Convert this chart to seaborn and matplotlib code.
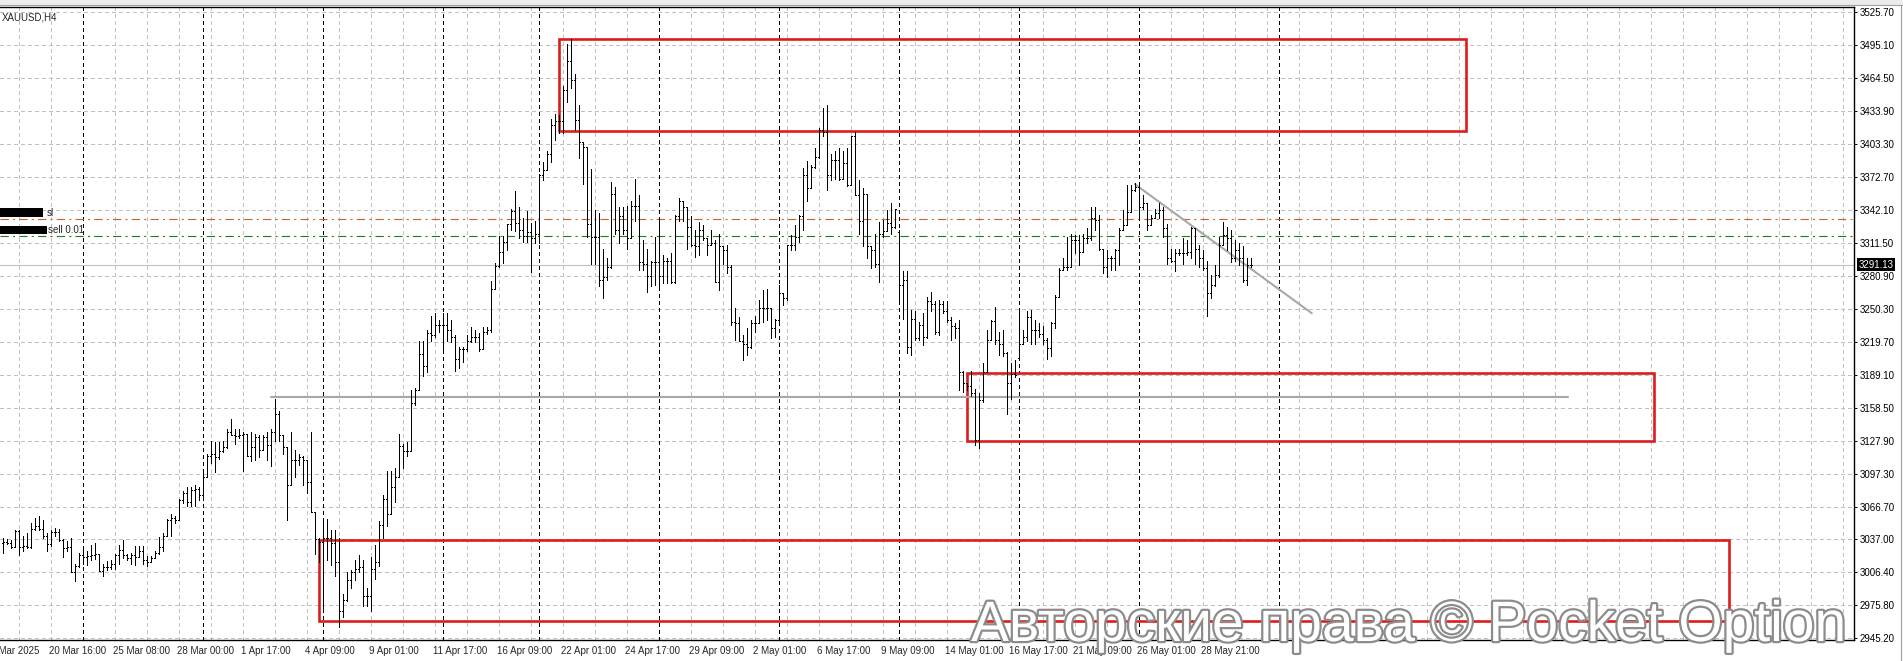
import numpy as np
import pandas as pd
import matplotlib
matplotlib.use("Agg")
import matplotlib.pyplot as plt
import matplotlib.patheffects as pe
from matplotlib.patches import Rectangle
from matplotlib.transforms import blended_transform_factory
import seaborn as sns

# === XAUUSD H4 bars, 18 Mar 16:00 .. 30 May 2025 (one row per week) ===
highs = [
    3038, 3037, 3036, 3045, 3045, 3040, 3042, 3052, 3056, 3058, 3054, 3042, 3045, 3047, 3046, 3037, 3035, 3038, 3014, 3024,
    3028, 3026, 3031, 3033, 3023, 3014, 3016, 3017, 3023, 3031, 3036, 3023, 3024, 3030, 3030, 3030, 3021, 3021, 3026, 3039, 3042, 3055, 3060, 3058, 3074, 3081, 3085, 3085, 3087, 3085,
    3100, 3116, 3128, 3127, 3127, 3128, 3139, 3148, 3139, 3139, 3136, 3128, 3136, 3134, 3133, 3133, 3136, 3139, 3167, 3155, 3133, 3122, 3136, 3119, 3116, 3114, 3110, 3136, 3062, 3038,
    3056, 3055, 3045, 3045, 3038, 2986, 3006, 3008, 3017, 3022, 3017, 2991, 3020, 3031, 3053, 3078, 3100, 3100, 3103, 3134, 3125, 3127, 3175, 3177, 3220, 3220, 3231, 3244, 3246, 3240,
    3246, 3246, 3240, 3226, 3215, 3215, 3226, 3233, 3231, 3228, 3233, 3233, 3276, 3293, 3318, 3318, 3329, 3343, 3359, 3345, 3334, 3341, 3330, 3332,
    3375, 3386, 3397, 3426, 3431, 3430, 3457, 3496, 3500, 3468, 3439, 3404, 3388, 3380, 3342, 3339, 3306, 3297, 3368, 3363, 3345, 3345, 3346, 3350, 3371, 3356, 3314, 3306, 3295, 3317,
    3334, 3300, 3297, 3302, 3337, 3353, 3350, 3345, 3336, 3323, 3331, 3328, 3316, 3323, 3314, 3320, 3308, 3309, 3291, 3251, 3243, 3226, 3232, 3240, 3244, 3258, 3268, 3269, 3251, 3241,
    3272, 3265, 3309, 3319, 3328, 3337, 3381, 3387, 3384, 3399, 3418, 3436, 3439, 3394, 3397, 3399, 3397, 3399, 3410, 3414, 3370, 3362, 3339, 3308, 3320, 3331, 3333, 3342, 3348, 3343,
    3323, 3285, 3285, 3249, 3248, 3238, 3246, 3261, 3266, 3257, 3258, 3257, 3257, 3243, 3237, 3240, 3193, 3181, 3193, 3176, 3172, 3200, 3231, 3240, 3252, 3229, 3231, 3210, 3200, 3203,
    3251, 3231, 3248, 3249, 3240, 3237, 3234, 3223, 3238, 3263, 3288, 3297, 3317, 3320, 3319, 3319, 3320, 3325, 3345, 3345, 3337, 3306, 3305, 3299, 3306, 3325, 3342, 3365, 3365, 3367,
    3365, 3356, 3348, 3337, 3343, 3348, 3345, 3329, 3306, 3306, 3306, 3316, 3314, 3326, 3325, 3309, 3305, 3295, 3282, 3291, 3317, 3331, 3326, 3323, 3314, 3311, 3308, 3297, 3297,
]
lows = [
    3024, 3032, 3028, 3029, 3022, 3026, 3028, 3028, 3045, 3045, 3038, 3026, 3030, 3040, 3035, 3020, 3026, 3006, 2998, 3011,
    3014, 3013, 3017, 3018, 3007, 3002, 3008, 3009, 3009, 3014, 3019, 3017, 3014, 3013, 3020, 3014, 3012, 3015, 3019, 3023, 3026, 3040, 3040, 3052, 3054, 3070, 3067, 3067, 3067, 3073,
    3076, 3094, 3107, 3099, 3111, 3117, 3121, 3133, 3125, 3130, 3100, 3114, 3109, 3110, 3113, 3119, 3110, 3104, 3128, 3128, 3116, 3054, 3087, 3094, 3105, 3087, 3079, 3062, 3023, 3015,
    2971, 3017, 3013, 3002, 2955, 2964, 2979, 2991, 2999, 3006, 2975, 2975, 2970, 3000, 3012, 3038, 3049, 3060, 3071, 3094, 3103, 3114, 3118, 3161, 3175, 3188, 3192, 3220, 3224, 3229,
    3210, 3220, 3219, 3193, 3195, 3201, 3211, 3219, 3219, 3211, 3213, 3227, 3229, 3269, 3289, 3293, 3305, 3323, 3322, 3316, 3312, 3312, 3284, 3311,
    3311, 3370, 3379, 3386, 3407, 3413, 3413, 3442, 3455, 3416, 3390, 3366, 3317, 3292, 3292, 3271, 3260, 3277, 3288, 3320, 3311, 3320, 3306, 3316, 3332, 3286, 3286, 3266, 3271, 3272,
    3268, 3274, 3274, 3274, 3274, 3332, 3332, 3306, 3308, 3298, 3300, 3314, 3300, 3309, 3275, 3268, 3292, 3283, 3235, 3221, 3220, 3203, 3207, 3214, 3229, 3237, 3238, 3240, 3223, 3224,
    3238, 3254, 3258, 3305, 3305, 3312, 3323, 3350, 3362, 3381, 3390, 3410, 3360, 3370, 3371, 3370, 3371, 3364, 3365, 3356, 3320, 3308, 3297, 3288, 3289, 3275, 3317, 3322, 3320, 3325,
    3258, 3241, 3209, 3207, 3221, 3221, 3217, 3223, 3248, 3227, 3226, 3246, 3238, 3221, 3223, 3175, 3173, 3175, 3169, 3124, 3121, 3164, 3192, 3221, 3218, 3207, 3206, 3153, 3167, 3187,
    3203, 3218, 3220, 3218, 3218, 3224, 3218, 3204, 3206, 3232, 3261, 3286, 3286, 3289, 3302, 3291, 3303, 3311, 3314, 3323, 3305, 3283, 3280, 3286, 3286, 3291, 3323, 3328, 3340, 3359,
    3333, 3343, 3323, 3328, 3334, 3334, 3317, 3292, 3294, 3285, 3300, 3292, 3300, 3297, 3292, 3289, 3286, 3244, 3260, 3271, 3280, 3309, 3305, 3294, 3295, 3291, 3275, 3272, 3289,
]
closes = [
    3034, 3033, 3029, 3044, 3029, 3030, 3029, 3046, 3049, 3046, 3040, 3032, 3043, 3043, 3036, 3028, 3029, 3006, 3012, 3022,
    3020, 3021, 3022, 3023, 3007, 3011, 3011, 3014, 3022, 3027, 3022, 3019, 3022, 3020, 3026, 3017, 3015, 3019, 3024, 3029, 3040, 3054, 3056, 3054, 3073, 3079, 3071, 3082, 3083, 3078,
    3094, 3114, 3116, 3113, 3118, 3122, 3136, 3133, 3132, 3133, 3134, 3114, 3122, 3131, 3119, 3131, 3124, 3136, 3153, 3133, 3122, 3087, 3110, 3110, 3113, 3110, 3090, 3062, 3037, 3034,
    3038, 3038, 3033, 3015, 2970, 2980, 2999, 3006, 3009, 3011, 2984, 2984, 3009, 3015, 3050, 3074, 3060, 3085, 3094, 3123, 3118, 3118, 3163, 3175, 3208, 3197, 3228, 3226, 3235, 3235,
    3235, 3231, 3224, 3204, 3213, 3213, 3220, 3224, 3224, 3213, 3229, 3231, 3269, 3290, 3303, 3312, 3329, 3341, 3330, 3323, 3318, 3321, 3316, 3320,
    3374, 3379, 3394, 3421, 3424, 3424, 3453, 3480, 3462, 3425, 3405, 3400, 3329, 3317, 3317, 3277, 3280, 3289, 3357, 3323, 3336, 3323, 3316, 3346, 3346, 3294, 3292, 3281, 3294, 3294,
    3281, 3295, 3295, 3275, 3336, 3350, 3345, 3326, 3309, 3308, 3323, 3316, 3309, 3311, 3275, 3308, 3305, 3289, 3238, 3237, 3220, 3218, 3215, 3237, 3237, 3251, 3251, 3251, 3232, 3240,
    3265, 3260, 3309, 3309, 3317, 3336, 3374, 3362, 3382, 3391, 3416, 3414, 3374, 3388, 3388, 3371, 3385, 3365, 3410, 3356, 3332, 3357, 3308, 3305, 3292, 3320, 3322, 3330, 3326, 3343,
    3272, 3277, 3215, 3241, 3223, 3235, 3224, 3257, 3255, 3229, 3255, 3248, 3240, 3234, 3232, 3192, 3181, 3179, 3172, 3129, 3166, 3192, 3221, 3239, 3221, 3218, 3209, 3181, 3190, 3189,
    3218, 3224, 3243, 3231, 3231, 3227, 3221, 3214, 3237, 3261, 3286, 3289, 3289, 3314, 3314, 3303, 3316, 3316, 3334, 3333, 3306, 3289, 3297, 3297, 3305, 3323, 3328, 3340, 3360, 3363,
    3345, 3348, 3328, 3334, 3339, 3342, 3325, 3297, 3295, 3302, 3302, 3302, 3303, 3325, 3306, 3297, 3288, 3265, 3272, 3282, 3309, 3319, 3316, 3297, 3305, 3297, 3277, 3291, 3291.13,
]
first_open = 3033
gap_opens = {224: 3321, 254: 3205}   # Monday gaps

# bar index where each week starts (weekly separators)
week_starts = [20, 50, 80, 110, 134, 164, 194, 224, 254, 284, 319]

date_labels = ["18 Mar 2025", "20 Mar 16:00", "25 Mar 08:00", "28 Mar 00:00", "1 Apr 17:00",
               "4 Apr 09:00", "9 Apr 01:00", "11 Apr 17:00", "16 Apr 09:00", "22 Apr 01:00",
               "24 Apr 17:00", "29 Apr 09:00", "2 May 01:00", "6 May 17:00", "9 May 09:00",
               "14 May 01:00", "16 May 17:00", "21 May 09:00", "26 May 01:00", "28 May 21:00"]
first_label_bar = -4
price_labels = ["3525.70", "3495.10", "3464.50", "3433.90", "3403.30", "3372.70", "3342.10",
                "3311.50", "3280.90", "3250.30", "3219.70", "3189.10", "3158.50", "3127.90",
                "3097.30", "3066.70", "3037.00", "3006.40", "2975.80", "2945.20"]

# order lines
sl_price = 3333.8
sell_price = 3318.0
last_price = 3291.13

# drawn zones (bar index / price)
zone_start = [139, 240.9, 79]
zone_end = [365.75, 412.75, 431.6]
zone_bottom = [3415.4, 3128.0, 2960.6]
zone_top = [3500.4, 3190.5, 3035.9]

support_bars = [67, 391.25]
support_price = [3168.3, 3168.3]
trend_bars = [283, 327.2]
trend_price = [3365.7, 3246.1]

# ---------------------------------------------------------------
assert len(highs) == len(lows) == len(closes)
df = pd.DataFrame({"bar": np.arange(len(closes)), "high": highs, "low": lows, "close": closes})
df["open"] = [first_open] + closes[:-1]
for b, o in gap_opens.items():
    df.loc[b, "open"] = o
df["lo"] = df[["low", "open", "close"]].min(axis=1)
df["hi"] = df[["high", "open", "close"]].max(axis=1)

sns.set_style("white")
plt.rcParams["font.family"] = ["Liberation Sans", "DejaVu Sans"]
plt.rcParams["lines.scale_dashes"] = False

W, H = 1903, 661
fig = plt.figure(figsize=(W / 100, H / 100), dpi=100)
fig.patch.set_facecolor("white")

def fx(px):
    return px / W

def fy(py):
    return 1 - py / H

ax = fig.add_axes([0, fy(640), fx(1854), (640 - 7.3) / H])
ax.set_xlim(-0.75, 462.75)
ax.set_ylim(2943.1, 3529.8)
ax.set_facecolor("white")

# grid
ytick_vals = [float(s) for s in price_labels]
for v in ytick_vals:
    ax.axhline(v, color="#c0c0c0", lw=0.72, dashes=(2.2, 2.2), antialiased=False, zorder=0)
for b in range(4, 463, 8):
    ax.axvline(b, color="#c0c0c0", lw=0.72, dashes=(2.2, 2.2), antialiased=False, zorder=0)
for b in week_starts:
    ax.axvline(b, color="black", lw=0.72, dashes=(2.2, 2.2), antialiased=False, zorder=0.5)

# order lines and current price
ax.axhline(sl_price, color="#c8642a", lw=0.8, dashes=(6, 3, 1.5, 3), zorder=1)
ax.axhline(sell_price, color="#1f7a1f", lw=0.8, dashes=(6, 3, 1.5, 3), zorder=1)
ax.axhline(last_price, color="#c0c0c0", lw=0.8, zorder=1)

# zones
for x0, x1, y0, y1 in zip(zone_start, zone_end, zone_bottom, zone_top):
    ax.add_patch(Rectangle((x0, y0), x1 - x0, y1 - y0, fill=False,
                           ec="#dd1c1c", lw=1.9, zorder=2))

sns.lineplot(x=support_bars, y=support_price, ax=ax, color="#a8a8a8", lw=1.5, zorder=2)
sns.lineplot(x=trend_bars, y=trend_price, ax=ax, color="#a8a8a8", lw=1.5, zorder=2)

# OHLC bars
ax.vlines(df["bar"], df["lo"], df["hi"], color="black", lw=0.72, antialiased=False, zorder=3)
ax.hlines(df["open"], df["bar"] - 0.35, df["bar"], color="black", lw=0.72, antialiased=False, zorder=3)
ax.hlines(df["close"], df["bar"], df["bar"] + 0.35, color="black", lw=0.72, antialiased=False, zorder=3)

# axes frame
for s in ["top", "right", "bottom"]:
    ax.spines[s].set_color("black")
    ax.spines[s].set_linewidth(1.0)
ax.spines["left"].set_visible(False)

ax.yaxis.tick_right()
ax.set_yticks(ytick_vals)
ax.set_yticklabels(price_labels)
ax.tick_params(axis="y", direction="out", length=2.5, width=0.7, pad=1.5,
               labelsize=7, colors="black")

label_bars = [first_label_bar + 16 * k for k in range(len(date_labels))]
ax.set_xticks([b for b in label_bars if b >= 0])
ax.set_xticklabels([])
ax.tick_params(axis="x", direction="out", length=3, width=0.7, colors="black")
tb = blended_transform_factory(ax.transData, ax.transAxes)
for b, lab in zip(label_bars, date_labels):
    ax.text(b - 0.5, -0.0175, lab, transform=tb, fontsize=7, ha="left", va="center",
            clip_on=False)

ax.set_xlabel("")
ax.set_ylabel("")

# current price tag
tp = blended_transform_factory(ax.transAxes, ax.transData)
ax.text(1.0025, last_price, "3291.13", transform=tp, color="white", fontsize=7,
        ha="left", va="center", clip_on=False,
        bbox=dict(boxstyle="square,pad=0.18", fc="black", ec="none"))

# symbol caption and order labels
fig.text(fx(2), fy(17), "XAUUSD,H4", fontsize=7, ha="left", va="center")
fig.patches.append(Rectangle((fx(0), fy(217)), fx(43), 9 / H, transform=fig.transFigure,
                             fc="black", ec="none", zorder=5))
fig.text(fx(47), fy(212.5), "sl", fontsize=7, ha="left", va="center")
fig.patches.append(Rectangle((fx(0), fy(233.5)), fx(47), 8 / H, transform=fig.transFigure,
                             fc="black", ec="none", zorder=5))
fig.text(fx(48), fy(229.5), "sell 0.01", fontsize=7, ha="left", va="center")

# window chrome
fig.patches.append(Rectangle((0, fy(4.5)), 1, 4.5 / H, transform=fig.transFigure,
                             fc="#ececec", ec="none"))
fig.lines.append(plt.Line2D([0, 1], [fy(4.5), fy(4.5)], transform=fig.transFigure,
                            color="#a0a0a0", lw=0.8))
fig.lines.append(plt.Line2D([fx(1900.5), fx(1900.5)], [0, fy(5)], transform=fig.transFigure,
                            color="#a0a0a0", lw=0.8))

# watermark
fig.text(fx(971), fy(641), "Авторские права © Pocket Option", fontsize=41,
         color="white", ha="left", va="baseline", zorder=10,
         path_effects=[pe.withStroke(linewidth=3.2, foreground="#8c8c8c")])

fig.savefig("out.png", dpi=100)
